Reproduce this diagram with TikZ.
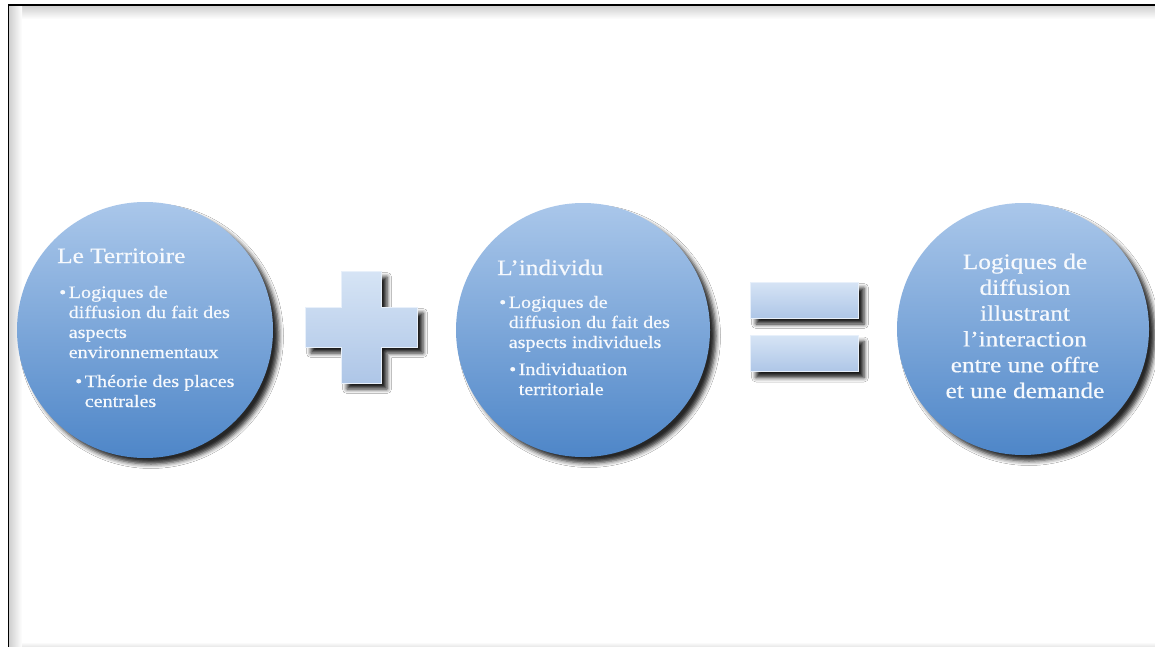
\documentclass[tikz,border=0pt]{standalone}
\usepackage{fontspec}
\setmainfont{Liberation Serif}[FakeStretch=1.15,FakeBold=0.5]
\usetikzlibrary{shadows.blur}
\definecolor{circtop}{RGB}{170,199,234}
\definecolor{circbot}{RGB}{78,134,200}
\definecolor{symtop}{RGB}{214,228,245}
\definecolor{symbot}{RGB}{174,198,231}
\definecolor{symedge}{RGB}{232,240,250}
\definecolor{txt}{RGB}{246,249,253}
\definecolor{shadegray}{RGB}{205,205,205}
\tikzset{
  bubble/.style={circle, draw=none, inner sep=0pt, top color=circtop, bottom color=circbot,
    blur shadow={shadow xshift=6pt, shadow yshift=-6pt, shadow blur radius=4.5pt, shadow opacity=85}},
  symbolshape/.style={draw=symedge, line width=0.8pt, top color=symtop, bottom color=symbot,
    blur shadow={shadow xshift=6pt, shadow yshift=-6pt, shadow blur radius=4.5pt, shadow opacity=90}},
  bar/.style={symbolshape, rectangle, inner sep=0pt, minimum width=108pt, minimum height=36pt},
  titletext/.style={anchor=base west, inner sep=0pt, text=txt, font=\fontsize{22}{26}\selectfont},
  itemtext/.style={anchor=base west, inner sep=0pt, text=txt, font=\fontsize{17.5}{20}\selectfont},
  resulttext/.style={anchor=base, inner sep=0pt, text=txt, font=\fontsize{22}{25.8}\selectfont},
}
\begin{document}
\begin{tikzpicture}[x=1pt,y=-1pt]
\useasboundingbox (0,0) rectangle (1155,647);
\fill[white] (0,0) rectangle (1155,647);
% inner shadow of the frame
\fill[top color=shadegray, bottom color=white] (8.5,5) rectangle (1155,19);
\fill[left color=shadegray, right color=white] (8.5,5) rectangle (22,647);
\fill[top color=white, bottom color=shadegray!50] (22,642) rectangle (1155,647);
\draw[line width=1.2pt, black] (8.5,647) -- (8.5,5) -- (1155,5);

% circles
\node[bubble, minimum size=256pt] (terr) at (145,330) {};
\node[bubble, minimum size=254pt] (indiv) at (583,330) {};
\node[bubble, minimum size=252pt] (result) at (1023,329) {};

% plus
\path[symbolshape] (341,271) -- (381,271) -- (381,307) -- (417,307) -- (417,347) -- (381,347)
  -- (381,383) -- (341,383) -- (341,347) -- (305,347) -- (305,307) -- (341,307) -- cycle;

% equals
\node[bar] (eqtop) at (804,300) {};
\node[bar] (eqbot) at (804,353.5) {};

% texts circle 1
\node[titletext] (terrtitle) at (57,263) {Le Territoire};
\node[itemtext] (terrA) at (59,298) {\begin{tabular}[t]{@{}l@{\hspace{2.5pt}}l@{}}\textbullet & Logiques de\\ & diffusion du fait des\\ & aspects\\ & environnementaux\end{tabular}};
\node[itemtext] (terrB) at (75,387) {\begin{tabular}[t]{@{}l@{\hspace{2.5pt}}l@{}}\textbullet & Théorie des places\\ & centrales\end{tabular}};

% texts circle 2
\node[titletext] (indivtitle) at (497,275) {L’individu};
\node[itemtext] (indivA) at (499,308) {\begin{tabular}[t]{@{}l@{\hspace{2.5pt}}l@{}}\textbullet & Logiques de\\ & diffusion du fait des\\ & aspects individuels\end{tabular}};
\node[itemtext] (indivB) at (509,375) {\begin{tabular}[t]{@{}l@{\hspace{2.5pt}}l@{}}\textbullet & Individuation\\ & territoriale\end{tabular}};

% text circle 3
\node[resulttext] (resulttxt) at (1025,269) {\begin{tabular}[t]{@{}c@{}}Logiques de\\ diffusion\\ illustrant\\ l’interaction\\ entre une offre\\ et une demande\end{tabular}};
\end{tikzpicture}
\end{document}
